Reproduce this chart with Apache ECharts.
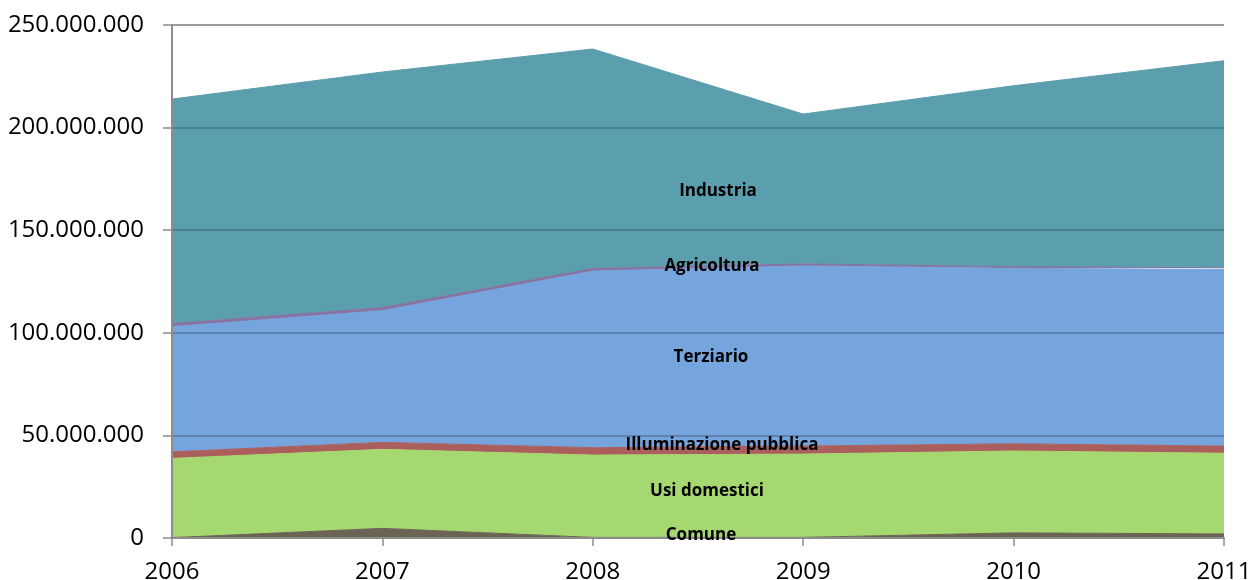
<!DOCTYPE html>
<html>
<head>
<meta charset="utf-8">
<script src="https://cdn.jsdelivr.net/npm/echarts@6/dist/echarts.min.js"></script>
<style>
  html, body { margin: 0; padding: 0; background: #fff; }
  #chart { width: 1250px; height: 580px; }
</style>
</head>
<body>
<div id="chart"></div>
<script>
// anni
var years = ["2006", "2007", "2008", "2009", "2010", "2011"];

// consumi (kWh), dal basso verso l'alto
var comune = [200000, 4700000, 300000, 300000, 2500000, 2000000];
var usiDomestici = [38600000, 38500000, 40100000, 40600000, 39900000, 39300000];
var illuminazione = [3200000, 3400000, 3600000, 3900000, 3500000, 3500000];
var terziario = [61000000, 64200000, 86100000, 87800000, 85500000, 86100000];
var agricoltura = [1500000, 1500000, 1300000, 1000000, 800000, 800000];
var industria = [109400000, 114800000, 106900000, 73000000, 88200000, 100900000];

var seriesNames = ["Comune", "Usi domestici", "Illuminazione pubblica", "Terziario", "Agricoltura", "Industria"];

var chart = echarts.init(document.getElementById("chart"));

var colors = ["#6b6454", "#a6d871", "#ab5f5d", "#76a4dc", "#8773a3", "#5b9eae"];
var values = [comune, usiDomestici, illuminazione, terziario, agricoltura, industria];

var seriesArr = [];
seriesNames.forEach(function (name, i) {
  seriesArr.push({
    name: name,
    type: "line",
    stack: "tot",
    data: values[i],
    symbol: "none",
    smooth: false,
    lineStyle: { width: 1, color: colors[i] },
    areaStyle: { color: colors[i], opacity: 1 },
    itemStyle: { color: colors[i] },
    z: 2,
  });
});

function fmt(v) {
  return String(v).replace(/\B(?=(\d{3})+(?!\d))/g, ".");
}

// etichette delle fasce (testo)
var labelFont = 'bold 17px "Open Sans", sans-serif';
var bandLabels = [
  { text: "Industria", x: 718, y: 191 },
  { text: "Agricoltura", x: 712, y: 266 },
  { text: "Terziario", x: 711, y: 357 },
  { text: "Illuminazione pubblica", x: 722, y: 445 },
  { text: "Usi domestici", x: 707, y: 491 },
  { text: "Comune", x: 701, y: 535 },
];

chart.setOption({
  animation: false,
  backgroundColor: "#fff",
  grid: { left: 172, right: 26, top: 25, bottom: 42, containLabel: false, outerBoundsMode: "none" },
  xAxis: {
    type: "category",
    data: years,
    boundaryGap: false,
    axisLine: { lineStyle: { color: "#8c8c8c", width: 2 } },
    axisTick: { show: true, length: 8, lineStyle: { color: "#8c8c8c", width: 1.5 } },
    axisLabel: {
      color: "#000",
      fontSize: 24,
      fontFamily: "Open Sans",
      margin: 22,
      showMinLabel: true,
      showMaxLabel: true,
    },
    splitLine: { show: false },
    z: 5,
  },
  yAxis: {
    type: "value",
    min: 0,
    max: 250000000,
    interval: 50000000,
    axisLine: { show: true, lineStyle: { color: "#8c8c8c", width: 2 } },
    axisTick: { show: true, length: 9, lineStyle: { color: "#8c8c8c", width: 1.5 } },
    axisLabel: {
      color: "#000",
      fontSize: 24,
      fontFamily: "Open Sans",
      margin: 28,
      formatter: function (v) { return fmt(v); },
    },
    splitLine: {
      show: true,
      lineStyle: {
        color: ["rgba(0,0,0,0)", "rgba(0,0,0,0.2)", "rgba(0,0,0,0.2)", "rgba(0,0,0,0.2)", "rgba(0,0,0,0.2)", "#9a9a9a"],
        width: 2,
      },
    },
    z: 5,
  },
  series: seriesArr,
  graphic: bandLabels.map(function (l) {
    return {
      type: "text",
      x: l.x,
      y: l.y,
      z: 100,
      style: {
        text: l.text,
        font: labelFont,
        fill: "#000",
        align: "center",
        verticalAlign: "middle",
      },
    };
  }),
});
</script>
</body>
</html>
